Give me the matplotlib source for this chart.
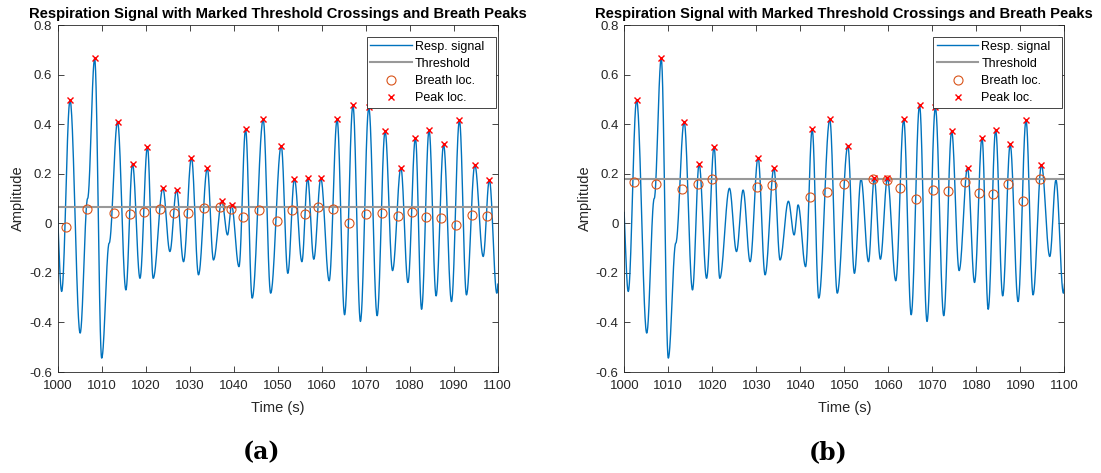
import numpy as np
import matplotlib.pyplot as plt

plt.rcParams['font.family'] = ['Liberation Sans', 'DejaVu Sans']

# Extrema of the respiration signal (time in s, amplitude)
ext_t = [999.5, 1000.9, 1002.8, 1005.1, 1006.8, 1008.4, 1010.0, 1011.7, 1013.6,
         1015.5, 1017.0, 1018.7, 1020.4, 1021.7, 1023.9, 1025.5, 1027.0, 1028.6,
         1030.4, 1032.0, 1034.0, 1035.4, 1037.3, 1038.6, 1039.5, 1041.2, 1042.7,
         1044.2, 1046.7, 1048.4, 1050.8, 1052.3, 1053.8, 1055.5, 1056.8, 1058.2,
         1059.8, 1061.7, 1063.5, 1065.2, 1067.1, 1068.8, 1070.7, 1072.6, 1074.4,
         1076.1, 1078.0, 1079.6, 1081.3, 1082.7, 1084.4, 1086.0, 1087.7, 1089.5,
         1091.3, 1092.9, 1094.8, 1096.7, 1098.1, 1099.8, 1101.0]
ext_v = [0.15, -0.275, 0.497, -0.443, 0.10, 0.665, -0.544, -0.08, 0.41,
         -0.269, 0.24, -0.222, 0.309, -0.222, 0.141, -0.114, 0.134, -0.155,
         0.265, -0.208, 0.222, -0.148, 0.089, -0.047, 0.074, -0.175, 0.379,
         -0.302, 0.419, -0.282, 0.313, -0.202, 0.179, -0.155, 0.181, -0.145,
         0.181, -0.232, 0.419, -0.369, 0.477, -0.396, 0.468, -0.373, 0.372,
         -0.191, 0.224, -0.239, 0.345, -0.347, 0.376, -0.293, 0.318, -0.316,
         0.416, -0.289, 0.235, -0.134, 0.175, -0.282, 0.10]

# panel (a)
thr_a = 0.067
breath_t_a = [1001.9, 1006.7, 1012.7, 1016.4, 1019.6, 1023.3, 1026.4, 1029.7,
              1033.3, 1036.9, 1039.3, 1042.0, 1045.8, 1049.8, 1053.2, 1056.2,
              1059.2, 1062.6, 1066.3, 1070.1, 1073.6, 1077.3, 1080.6, 1083.6,
              1087.0, 1090.5, 1094.1, 1097.6]
breath_v_a = [-0.013, 0.058, 0.040, 0.038, 0.047, 0.056, 0.040, 0.040,
              0.063, 0.064, 0.056, 0.024, 0.054, 0.009, 0.054, 0.036,
              0.064, 0.056, 0.0, 0.038, 0.043, 0.031, 0.044, 0.024,
              0.020, -0.007, 0.034, 0.031]
peak_t_a = [1002.8, 1008.4, 1013.6, 1017.0, 1020.4, 1023.9, 1027.0, 1030.4,
            1034.0, 1037.3, 1039.5, 1042.7, 1046.7, 1050.8, 1053.8, 1056.8,
            1059.8, 1063.5, 1067.1, 1070.7, 1074.4, 1078.0, 1081.3, 1084.4,
            1087.7, 1091.3, 1094.8, 1098.1]
peak_v_a = [0.497, 0.665, 0.41, 0.24, 0.309, 0.141, 0.134, 0.265,
            0.222, 0.089, 0.074, 0.379, 0.419, 0.313, 0.179, 0.181,
            0.181, 0.419, 0.477, 0.468, 0.372, 0.224, 0.345, 0.376,
            0.318, 0.416, 0.235, 0.175]

# panel (b)
thr_b = 0.18
breath_t_b = [1002.2, 1007.3, 1013.0, 1016.8, 1020.0, 1030.1, 1033.6, 1042.2,
              1046.1, 1050.0, 1056.5, 1059.7, 1062.7, 1066.4, 1070.2, 1073.6,
              1077.5, 1080.6, 1083.7, 1087.2, 1090.5, 1094.4]
breath_v_b = [0.168, 0.157, 0.137, 0.159, 0.179, 0.148, 0.155, 0.107,
              0.128, 0.157, 0.177, 0.175, 0.144, 0.098, 0.134, 0.132,
              0.167, 0.124, 0.117, 0.159, 0.089, 0.177]
peak_t_b = [1002.8, 1008.4, 1013.6, 1017.0, 1020.4, 1030.4, 1034.0, 1042.7,
            1046.7, 1050.8, 1056.8, 1059.8, 1063.5, 1067.1, 1070.7, 1074.4,
            1078.0, 1081.3, 1084.4, 1087.7, 1091.3, 1094.8]
peak_v_b = [0.497, 0.665, 0.41, 0.24, 0.309, 0.265, 0.222, 0.379,
            0.419, 0.313, 0.181, 0.181, 0.419, 0.477, 0.468, 0.372,
            0.224, 0.345, 0.376, 0.318, 0.416, 0.235]


def smooth_curve(t, v, n=30):
    # half-cosine segments between consecutive extrema
    xs, ys = [], []
    for i in range(len(t) - 1):
        s = np.linspace(0, 1, n, endpoint=False)
        w = (1 - np.cos(np.pi * s)) / 2
        xs.append(t[i] + s * (t[i + 1] - t[i]))
        ys.append(v[i] + w * (v[i + 1] - v[i]))
    xs.append([t[-1]])
    ys.append([v[-1]])
    return np.concatenate(xs), np.concatenate(ys)


sig_t, sig_v = smooth_curve(ext_t, ext_v)

W, H = 1101, 473
fig = plt.figure(figsize=(W / 100, H / 100), dpi=100)

panels = [
    (57.7, thr_a, breath_t_a, breath_v_a, peak_t_a, peak_v_a, '(a)'),
    (624.3, thr_b, breath_t_b, breath_v_b, peak_t_b, peak_v_b, '(b)'),
]
for left, thr, bt, bv, pt, pv, tag in panels:
    ax = fig.add_axes([left / W, 1 - 372 / H, 440 / W, 347 / H])
    ax.plot(sig_t, sig_v, color='#0072BD', lw=1.0, label='Resp. signal')
    ax.axhline(thr, color='#999999', lw=1.5, label='Threshold')
    ax.plot(bt, bv, 'o', mfc='none', mec='#D95319', ms=6.5, mew=0.8,
            label='Breath loc.')
    ax.plot(pt, pv, 'x', color='red', ms=5, mew=1.0, label='Peak loc.')

    ax.set_xlim(1000, 1100)
    ax.set_ylim(-0.6, 0.8)
    ax.set_xticks(np.arange(1000, 1101, 10))
    ax.set_yticks(np.arange(-0.6, 0.81, 0.2))
    ax.set_yticklabels(['-0.6', '-0.4', '-0.2', '0', '0.2', '0.4', '0.6', '0.8'])
    ax.tick_params(direction='in', top=True, right=True, length=4, width=0.6,
                   labelsize=9.5, colors='#262626')
    ax.tick_params(axis='x', pad=6)
    ax.tick_params(axis='y', pad=4)
    for sp in ax.spines.values():
        sp.set_color('#262626')
        sp.set_linewidth(0.6)

    ax.set_title('Respiration Signal with Marked Threshold Crossings and Breath Peaks',
                 fontsize=10.6, fontweight='bold', pad=5)
    ax.set_xlabel('Time (s)', fontsize=10.5, color='#262626', labelpad=6)
    ax.set_ylabel('Amplitude', fontsize=10.5, color='#262626', labelpad=3)

    # MATLAB-style legend box with wide right margin
    leg = ax.legend(loc='upper right', bbox_to_anchor=(0.7023, 0.766, 0.2932, 0.2),
                    mode='expand', borderaxespad=0, fontsize=9, fancybox=False,
                    edgecolor='#262626', framealpha=1, handlelength=3.3,
                    handletextpad=0.25, borderpad=0.3, labelspacing=0.42)
    leg.get_frame().set_linewidth(0.6)

    ax.text(0.463, -0.23, tag, transform=ax.transAxes, ha='center', va='center',
            fontsize=17, fontweight='bold', family='DejaVu Serif')

fig.savefig('out.png', dpi=100)
